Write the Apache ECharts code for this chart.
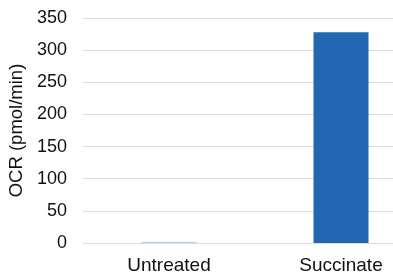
<!DOCTYPE html>
<html><head><meta charset="utf-8">
<script src="https://cdn.jsdelivr.net/npm/echarts@6/dist/echarts.min.js"></script>
<style>html,body{margin:0;padding:0;background:#fff}#c{width:393px;height:280px}</style>
</head><body><div id="c"></div>
<script>
const categories = ['Untreated', 'Succinate'];
const ocrValues = [2, 328];
const barColors = ['#bfd2e3', '#2167b1'];
const yTicks = [0, 50, 100, 150, 200, 250, 300, 350];

const chart = echarts.init(document.getElementById('c'), null, {renderer: 'canvas'});
chart.setOption({
  animation: false,
  grid: {left: 83, top: 18, width: 344, bottom: 37, outerBoundsMode: 'none', containLabel: false},
  xAxis: {
    type: 'category', data: categories,
    axisLine: {show: false}, axisTick: {show: false},
    axisLabel: {color: '#111', fontSize: 19, fontFamily: 'Liberation Sans', margin: 13}
  },
  yAxis: {
    type: 'value', min: yTicks[0], max: yTicks[yTicks.length - 1], interval: 50,
    name: 'OCR (pmol/min)', nameLocation: 'middle', nameGap: 52, nameRotate: 90,
    nameTextStyle: {color: '#111', fontSize: 18.5, fontFamily: 'Liberation Sans'},
    axisLine: {show: false}, axisTick: {show: false},
    axisLabel: {color: '#111', fontSize: 18, fontFamily: 'Liberation Sans', margin: 16},
    splitLine: {lineStyle: {color: '#dcdcdc', width: 1}}
  },
  series: [{
    type: 'bar', barWidth: 55,
    data: ocrValues.map((v, i) => ({value: v, itemStyle: {color: barColors[i]}}))
  }]
});
</script></body></html>
